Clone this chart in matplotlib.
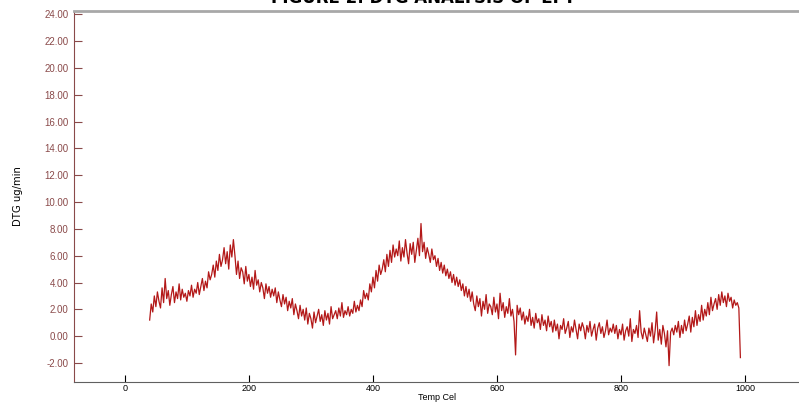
import matplotlib.pyplot as plt
import numpy as np

temp = np.arange(40, 995, 2.5)
dtg = [
    1.2, 2.4, 1.8, 3.0, 2.2, 3.3, 2.6, 2.1, 3.6, 2.5, 4.3, 2.8, 3.4, 2.3, 3.1, 3.7, 2.5, 3.3, 2.8, 3.9,
    2.7, 3.5, 2.9, 3.2, 2.6, 3.4, 3.0, 3.8, 2.9, 3.5, 3.2, 4.0, 3.1, 3.7, 4.3, 3.4, 4.1, 3.6, 4.8, 4.2,
    4.6, 5.3, 4.4, 5.6, 4.9, 6.1, 5.2, 5.7, 6.6, 5.4, 6.3, 5.0, 6.8, 5.9, 7.2, 6.0, 4.6, 5.6, 4.3, 5.1,
    4.8, 3.9, 5.2, 4.1, 4.6, 3.7, 4.4, 3.5, 4.9, 3.8, 4.2, 3.3, 4.0, 3.6, 2.8, 3.9, 3.2, 3.7, 2.9, 3.5,
    3.0, 3.6, 2.5, 3.3, 2.7, 2.2, 3.1, 2.4, 2.9, 1.9, 2.6, 2.1, 2.8, 1.6, 2.4, 1.9, 1.3, 2.3, 1.5, 2.0,
    1.2, 2.1, 0.9, 1.7, 1.3, 0.6, 1.8, 1.0, 1.5, 2.0, 1.1, 1.6, 0.8, 1.9, 1.2, 1.7, 0.9, 2.2, 1.3, 1.6,
    1.9, 1.3, 2.1, 1.5, 2.5, 1.4, 1.9, 1.6, 2.2, 1.5, 2.0, 1.7, 2.6, 1.8, 2.3, 1.9, 2.7, 2.2, 3.4, 2.8,
    3.2, 2.7, 3.9, 3.3, 4.4, 3.6, 4.9, 4.1, 5.3, 4.6, 5.0, 5.7, 4.8, 6.1, 5.2, 6.4, 5.5, 6.8, 5.9, 6.5,
    6.0, 7.1, 5.6, 6.6, 5.9, 7.2, 6.2, 5.4, 6.9, 6.1, 7.0, 5.5, 6.4, 7.3, 6.0, 8.4, 6.3, 7.0, 5.8, 6.6,
    6.1, 5.5, 6.5, 5.7, 6.0, 5.2, 5.8, 4.9, 5.5, 4.7, 5.3, 4.5, 5.0, 4.3, 4.8, 4.0, 4.6, 3.8, 4.4, 3.7,
    4.2, 3.4, 3.9, 3.0, 3.7, 2.9, 3.5, 2.6, 3.3, 2.4, 1.9, 3.0, 2.2, 2.8, 1.5, 2.6, 2.0, 3.1, 1.7, 2.4,
    2.2, 1.6, 2.9, 1.8, 2.4, 1.3, 3.2, 1.9, 2.5, 1.4, 2.2, 1.7, 2.8, 1.5, 2.0, 1.1, -1.4, 2.3, 1.6, 2.1,
    1.2, 1.8, 0.9, 1.5, 1.1, 2.0, 0.8, 1.4, 0.6, 1.7, 1.0, 1.3, 0.5, 1.6, 0.8, 1.2, 0.4, 1.5, 0.7, 1.1,
    0.3, 1.2, 0.4, 0.9, -0.2, 0.8, 0.5, 1.3, 0.2, 0.6, 1.1, -0.1, 0.7, 0.3, 1.2, 0.5, -0.2, 0.9, 0.4, 1.0,
    0.6, -0.2, 0.8, 0.3, 1.1, 0.0, 0.5, 0.9, -0.3, 0.6, 1.0, 0.2, 0.7, -0.1, 0.4, 1.2, 0.1, 0.6, 0.3, 0.9,
    0.2, 0.8, -0.2, 0.5, 0.1, 0.9, -0.3, 0.4, 0.7, 0.0, 1.3, -0.4, 0.5, 0.2, 0.8, -0.1, 1.9, 0.3, -0.2, 0.6,
    0.1, -0.4, 0.6, 0.0, 1.0, -0.5, 0.4, 1.8, -0.3, 0.5, -0.6, 0.8, 0.2, -0.8, 0.4, -2.2, 0.3, 0.6, 0.1, 0.8,
    0.3, 1.1, -0.1, 0.8, 0.2, 1.2, 0.4, 0.9, 1.5, 0.3, 1.4, 0.7, 1.9, 0.8, 1.6, 1.1, 2.3, 1.2, 2.0, 1.5,
    2.5, 1.6, 2.9, 1.9, 2.4, 2.8, 2.0, 3.1, 2.3, 3.3, 2.5, 3.0, 2.2, 3.2, 2.6, 2.9, 2.1, 2.7, 2.3, 2.5,
    2.1, -1.6,
]
yticks = np.arange(-2, 25, 2)
xticks = [0, 200, 400, 600, 800, 1000]

fig = plt.figure(figsize=(7.99, 4.03), dpi=100)
ax = fig.add_axes([74 / 799, 21 / 403, 1 - 74 / 799, 371 / 403])

ax.plot(temp, dtg, color="#b31818", linewidth=0.9)

ax.set_xlim(-82, 1087)
ax.set_ylim(-3.42, 24.25)
ax.set_yticks(yticks)
ax.set_yticklabels([f"{v:.2f}" for v in yticks])
ax.set_xticks(xticks)

ax.tick_params(axis="y", direction="in", length=6, width=0.8, color="#8a4a4a",
               labelcolor="#8a4a4a", labelsize=7, pad=4)
ax.tick_params(axis="x", direction="in", length=5, width=0.8, color="black",
               labelsize=6.5, pad=1.5)
for lab in ax.get_xticklabels() + ax.get_yticklabels():
    lab.set_family("Liberation Sans")

ax.spines["left"].set_color("#8a4a4a")
ax.spines["bottom"].set_color("#606060")
ax.spines["top"].set_color("#a8a8a8")
ax.spines["top"].set_linewidth(2)
ax.spines["right"].set_visible(False)

ax.set_xlabel("Temp Cel", fontsize=6.5, family="Liberation Sans", labelpad=0)
ax.set_ylabel("DTG ug/min", fontsize=8, fontstretch="condensed", labelpad=15)

fig.text(0.53, 1 - 3 / 403, "FIGURE 2: DTG ANALYSIS OF EFT", ha="center",
         va="baseline", fontsize=12, fontweight="bold")

fig.savefig("out.png", dpi=100)
